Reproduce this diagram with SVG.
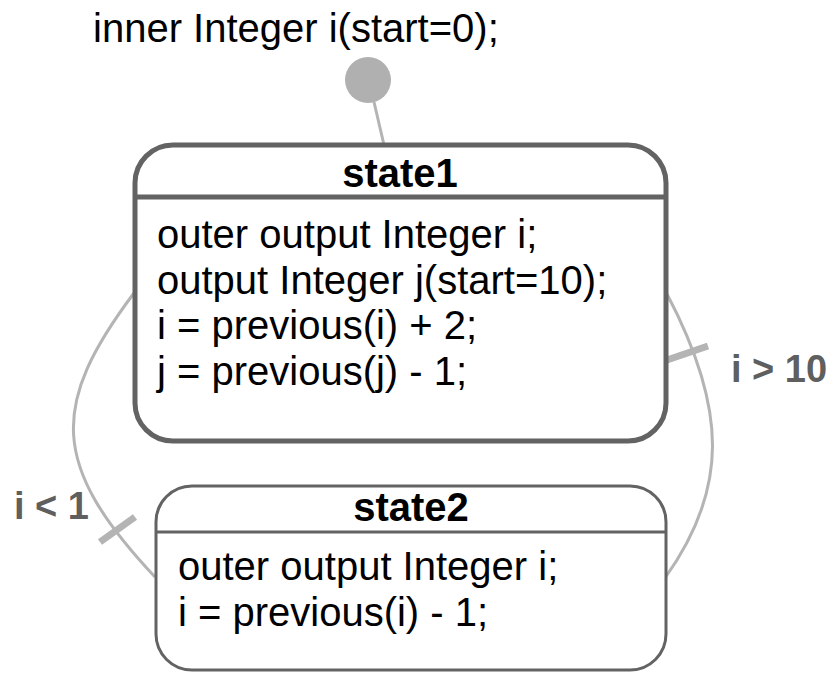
<svg xmlns="http://www.w3.org/2000/svg" width="833" height="675" viewBox="0 0 833 675">
<style>
text{font-family:"Liberation Sans",Arial,Helvetica,sans-serif;fill:#000}
.body{font-size:40px}
.title{font-size:40px;font-weight:bold;text-anchor:middle}
.lbl{font-size:38px;font-weight:bold;fill:#5f5f5f}
.conn{fill:none;stroke:#b4b4b4;stroke-width:3}
.bar{fill:none;stroke:#b4b4b4;stroke-width:7}
.st{fill:#fff;stroke:#636363}
</style>
<rect width="833" height="675" fill="#fff"/>
<text class="body" x="93" y="42">inner Integer i(start=0);</text>
<g id="connectors">
<line class="conn" x1="374" y1="102" x2="384" y2="145"/>
<path class="conn" d="M134,293 C50,405 50,465 155,577"/>
<line class="bar" x1="100" y1="542" x2="135" y2="517"/>
<path class="conn" d="M667,294 C728,410 728,490 665,578"/>
<line class="bar" x1="667" y1="360" x2="708" y2="346"/>
<text class="lbl" x="14" y="519">i &lt; 1</text>
<text class="lbl" x="731" y="382">i &gt; 10</text>
</g>
<g id="initial">
<circle cx="368" cy="80" r="23" fill="#b0b0b0"/>
</g>
<g id="state1">
<rect class="st" x="135" y="145" width="531" height="296" rx="38" ry="38" stroke-width="5"/>
<line x1="135" y1="197" x2="666" y2="197" stroke="#636363" stroke-width="5"/>
<text class="title" x="400" y="187">state1</text>
<text class="body" x="157" y="248">outer output Integer i;</text>
<text class="body" x="157" y="294">output Integer j(start=10);</text>
<text class="body" x="157" y="339">i = previous(i) + 2;</text>
<text class="body" x="157" y="385">j = previous(j) - 1;</text>
</g>
<g id="state2">
<rect class="st" x="156" y="486" width="510" height="184" rx="36" ry="36" stroke-width="3"/>
<line x1="156" y1="532" x2="666" y2="532" stroke="#636363" stroke-width="3"/>
<text class="title" x="411" y="521">state2</text>
<text class="body" x="178" y="580">outer output Integer i;</text>
<text class="body" x="178" y="626">i = previous(i) - 1;</text>
</g>
</svg>
